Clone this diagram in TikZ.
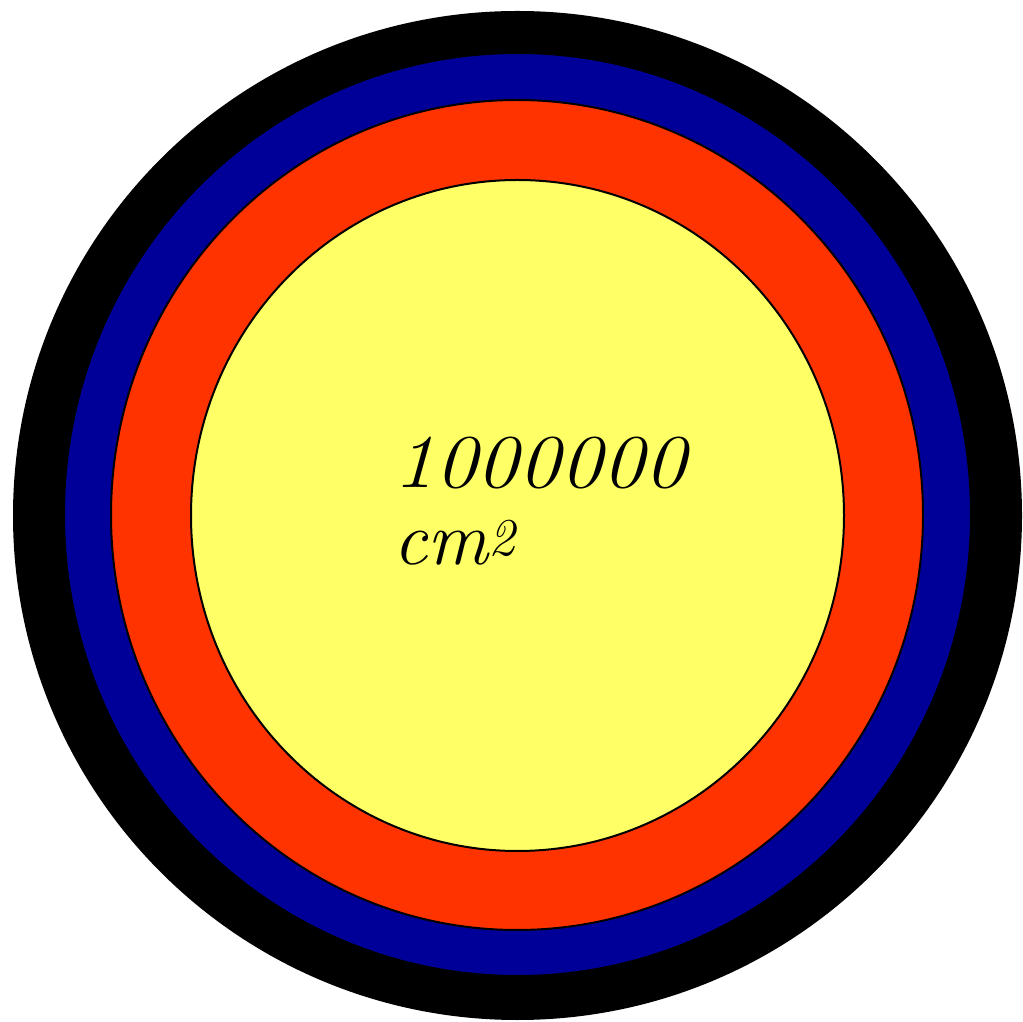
\documentclass[tikz,border=0pt]{standalone}
\usepackage{tikz}
\definecolor{ringblue}{RGB}{0,0,153}
\definecolor{ringred}{RGB}{255,51,0}
\definecolor{coreyellow}{RGB}{255,255,102}
\tikzset{
  ring/.style={draw=black, line width=2pt},
  label/.style={inner sep=0pt, align=left, anchor=base west,
    font=\fontsize{76}{77}\selectfont\itshape}
}
\begin{document}
\begin{tikzpicture}[x=1pt,y=1pt]
\useasboundingbox (0,0) rectangle (1023,1021);
\fill[black] (517.5,505.5) circle (504.5);
\filldraw[ring, fill=ringblue] (517.5,506.5) ellipse [x radius=453.5, y radius=461.5];
\filldraw[ring, fill=ringred] (517,506) ellipse [x radius=406, y radius=415];
\filldraw[ring, fill=coreyellow] (517.5,505.5) ellipse [x radius=326.5, y radius=335.5];
\node[label] (area) at (393,456) {\scalebox{1.1}[1]{1000000}\\cm\textsuperscript{2}};
\end{tikzpicture}
\end{document}
